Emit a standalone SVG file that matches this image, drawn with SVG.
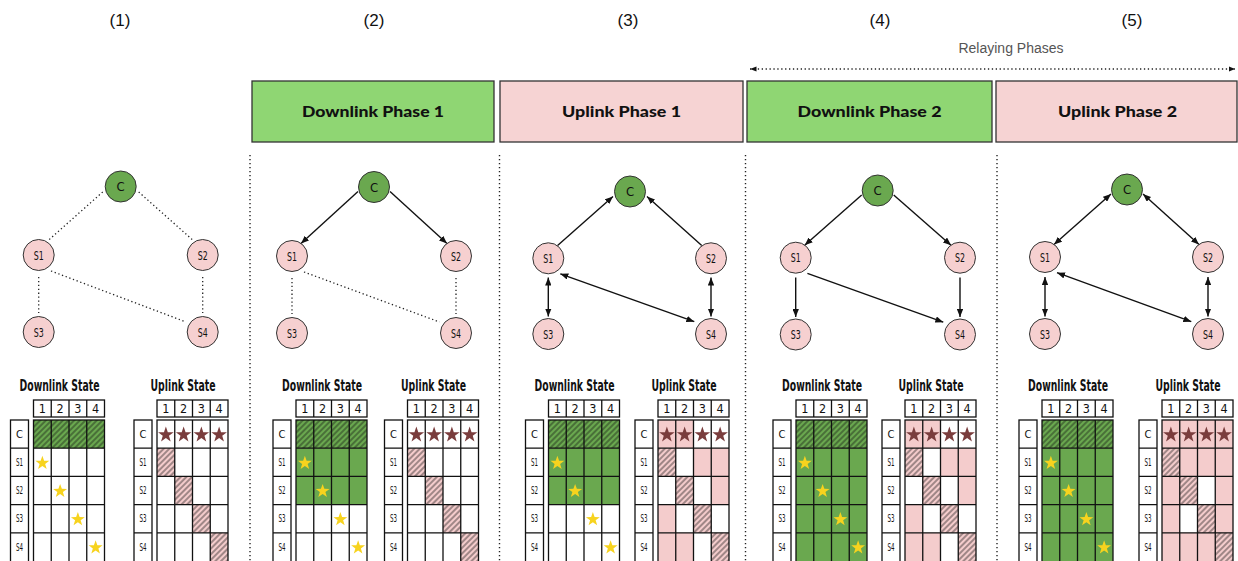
<svg xmlns="http://www.w3.org/2000/svg" xmlns:xlink="http://www.w3.org/1999/xlink" width="1238" height="561" viewBox="0 0 1238 561">
<style>
.num{font-family:"Liberation Sans",Arial,sans-serif;font-size:17px;fill:#111;text-anchor:middle}
.rp{font-family:"Liberation Sans",Arial,sans-serif;font-size:14px;fill:#555;text-anchor:middle}
.hb{font-family:Lato,"DejaVu Sans",sans-serif;font-weight:900;font-size:15px;fill:#111;text-anchor:middle}
.dlb{fill:#8fd673;stroke:#333;stroke-width:1.3}
.ulb{fill:#f6d3d3;stroke:#333;stroke-width:1.3}
.div{stroke:#222;stroke-width:1.4;stroke-dasharray:1.3 2.7;fill:none}
.cn{fill:#6aa84f;stroke:#333;stroke-width:1}
.sn{fill:#f6d0d0;stroke:#333;stroke-width:1}
.nl{font-family:"DejaVu Sans Condensed","DejaVu Sans",sans-serif;font-stretch:condensed;font-size:13px;fill:#111;text-anchor:middle}
.dot{stroke:#222;stroke-width:1.3;stroke-dasharray:1.3 2.6;fill:none}
.ar{stroke:#111;stroke-width:1.4;fill:none}
.tt{font-family:"DejaVu Sans Condensed","DejaVu Sans",sans-serif;font-stretch:condensed;font-weight:bold;font-size:15px;fill:#111;text-anchor:middle}
.hn{font-family:"DejaVu Sans Condensed","DejaVu Sans",sans-serif;font-stretch:condensed;font-size:12.5px;fill:#111;text-anchor:middle}
.rl{font-family:"DejaVu Sans Condensed","DejaVu Sans",sans-serif;font-stretch:condensed;font-size:10px;fill:#111;text-anchor:middle}
.tl{fill:none;stroke:#111;stroke-width:1.3}
.g{fill:#6aa84f}
.p{fill:#f4cccc}
.w{fill:#fff}
.h{fill:url(#hatch)}
</style>
<defs>
<pattern id="hatch" patternUnits="userSpaceOnUse" width="4" height="4" patternTransform="rotate(45)">
<line x1="2" y1="0" x2="2" y2="4" stroke="#111" stroke-width="0.75"/>
</pattern>
<marker id="ah" viewBox="0 0 10 8" refX="10" refY="4" markerWidth="8" markerHeight="6.4" markerUnits="userSpaceOnUse" orient="auto-start-reverse">
<path d="M0,0 L10,4 L0,8 z" fill="#111"/>
</marker>
<marker id="ah2" viewBox="0 0 10 8" refX="10" refY="4" markerWidth="6.5" markerHeight="5.2" markerUnits="userSpaceOnUse" orient="auto-start-reverse">
<path d="M0,0 L10,4 L0,8 z" fill="#111"/>
</marker>
<polygon id="ys" fill="#f7d31e" points="0,-7.3 1.72,-2.37 6.94,-2.26 2.77,0.91 4.29,5.91 0,2.92 -4.29,5.91 -2.77,0.91 -6.94,-2.26 -1.72,-2.37"/>
<polygon id="bs" fill="#7a3d3d" points="0,-8.2 1.93,-2.66 7.8,-2.53 3.12,1.02 4.82,6.63 0,3.28 -4.82,6.63 -3.12,1.02 -7.8,-2.53 -1.93,-2.66"/>
<g id="ystars">
<use href="#ys" x="8.875" y="463"/><use href="#ys" x="26.625" y="491.2"/><use href="#ys" x="44.375" y="519.4"/><use href="#ys" x="62.125" y="547.6"/>
</g>
<g id="bstars">
<use href="#bs" x="8.875" y="434.8"/><use href="#bs" x="26.625" y="434.8"/><use href="#bs" x="44.375" y="434.8"/><use href="#bs" x="62.125" y="434.8"/>
</g>
<g id="diag">
<rect class="p" x="0" y="448.2" width="17.75" height="28.2"/><rect class="h" x="0" y="448.2" width="17.75" height="28.2"/>
<rect class="p" x="17.75" y="476.4" width="17.75" height="28.2"/><rect class="h" x="17.75" y="476.4" width="17.75" height="28.2"/>
<rect class="p" x="35.5" y="504.6" width="17.75" height="28.2"/><rect class="h" x="35.5" y="504.6" width="17.75" height="28.2"/>
<rect class="p" x="53.25" y="532.8" width="17.75" height="29.2"/><rect class="h" x="53.25" y="532.8" width="17.75" height="29.2"/>
</g>
<g id="chatch">
<rect class="g" x="0" y="420" width="71" height="28.2"/><rect class="h" x="0" y="420" width="71" height="28.2"/>
</g>
<g id="frame">
<rect class="tl" x="0" y="400" width="71" height="17"/>
<path class="tl" d="M17.75,400V417M35.5,400V417M53.25,400V417"/>
<text class="hn" x="8.875" y="413.2">1</text><text class="hn" x="26.625" y="413.2">2</text><text class="hn" x="44.375" y="413.2">3</text><text class="hn" x="62.125" y="413.2">4</text>
<rect class="tl" x="-23" y="420" width="18" height="142"/>
<path class="tl" d="M-23,448.2H-5M-23,476.4H-5M-23,504.6H-5M-23,532.8H-5"/>
<text class="rl" x="-14" y="437.8" style="font-size:11px">C</text>
<text class="rl" x="-14" y="465.9" textLength="7" lengthAdjust="spacingAndGlyphs">S1</text>
<text class="rl" x="-14" y="494.1" textLength="7" lengthAdjust="spacingAndGlyphs">S2</text>
<text class="rl" x="-14" y="522.3" textLength="7" lengthAdjust="spacingAndGlyphs">S3</text>
<text class="rl" x="-14" y="550.5" textLength="7" lengthAdjust="spacingAndGlyphs">S4</text>
<rect class="tl" x="0" y="420" width="71" height="142"/>
<path class="tl" d="M0,448.2H71M0,476.4H71M0,504.6H71M0,532.8H71M17.75,420V562M35.5,420V562M53.25,420V562"/>
</g>
</defs>

<rect x="0" y="0" width="1238" height="561" fill="#fff"/>

<g id="titles">
<text class="num" x="120" y="26">(1)</text>
<text class="num" x="374" y="26">(2)</text>
<text class="num" x="628" y="26">(3)</text>
<text class="num" x="880" y="26">(4)</text>
<text class="num" x="1132" y="26">(5)</text>
<text class="rp" x="1011" y="53">Relaying Phases</text>
</g>

<g id="phase-headers">
<g id="hdr-dl1"><rect class="dlb" x="252" y="81" width="242" height="61"/><text class="hb" x="373" y="117" textLength="142" lengthAdjust="spacingAndGlyphs">Downlink Phase 1</text></g>
<g id="hdr-ul1"><rect class="ulb" x="500" y="81" width="243" height="61"/><text class="hb" x="621.5" y="117" textLength="119" lengthAdjust="spacingAndGlyphs">Uplink Phase 1</text></g>
<g id="hdr-dl2"><rect class="dlb" x="747" y="81" width="245" height="61"/><text class="hb" x="869.5" y="117" textLength="144" lengthAdjust="spacingAndGlyphs">Downlink Phase 2</text></g>
<g id="hdr-ul2"><rect class="ulb" x="996" y="81" width="241" height="61"/><text class="hb" x="1117.5" y="117" textLength="119" lengthAdjust="spacingAndGlyphs">Uplink Phase 2</text></g>
</g>

<g id="dividers">
<line class="div" x1="250" y1="155" x2="250" y2="561"/>
<line class="div" x1="499.5" y1="155" x2="499.5" y2="561"/>
<line class="div" x1="745.5" y1="155" x2="745.5" y2="561"/>
<line class="div" x1="997" y1="155" x2="997" y2="561"/>
</g>

<g id="connectors">
<line class="dot" x1="750" y1="69" x2="1235" y2="69" marker-start="url(#ah2)" marker-end="url(#ah2)"/>
<line class="dot" x1="102.7" y1="192" x2="48.7" y2="240"/>
<line class="dot" x1="138.7" y1="192" x2="192.7" y2="240"/>
<line class="dot" x1="38.7" y1="277" x2="38.7" y2="313"/>
<line class="dot" x1="202.7" y1="277" x2="202.7" y2="313"/>
<line class="dot" x1="51" y1="271" x2="186" y2="322"/>
<line class="ar" x1="358" y1="191.5" x2="301" y2="243.5" marker-end="url(#ah)"/>
<line class="ar" x1="390" y1="191.5" x2="447" y2="243.5" marker-end="url(#ah)"/>
<line class="dot" x1="292" y1="278" x2="292" y2="314"/>
<line class="dot" x1="456" y1="278" x2="456" y2="314"/>
<line class="dot" x1="304" y1="272" x2="439.5" y2="322"/>
<line class="ar" x1="557.3" y1="245.8" x2="613" y2="196.5" marker-end="url(#ah)"/>
<line class="ar" x1="702" y1="245.8" x2="647" y2="196.5" marker-end="url(#ah)"/>
<line class="ar" x1="548.3" y1="277.5" x2="548.3" y2="316.5" marker-start="url(#ah)" marker-end="url(#ah)"/>
<line class="ar" x1="711" y1="277.5" x2="711" y2="316.5" marker-start="url(#ah)" marker-end="url(#ah)"/>
<line class="ar" x1="560.3" y1="273.8" x2="694.3" y2="321.7" marker-start="url(#ah)" marker-end="url(#ah)"/>
<line class="ar" x1="861.7" y1="195" x2="804.7" y2="245.2" marker-end="url(#ah)"/>
<line class="ar" x1="893.7" y1="195" x2="951" y2="245.2" marker-end="url(#ah)"/>
<line class="ar" x1="795.7" y1="277.5" x2="795.7" y2="317" marker-end="url(#ah)"/>
<line class="ar" x1="960" y1="277.5" x2="960" y2="317" marker-end="url(#ah)"/>
<line class="ar" x1="807.4" y1="273.4" x2="943.3" y2="322.2" marker-end="url(#ah)"/>
<line class="ar" x1="1111" y1="194" x2="1054" y2="244.5" marker-start="url(#ah)" marker-end="url(#ah)"/>
<line class="ar" x1="1143" y1="194" x2="1199" y2="244.5" marker-start="url(#ah)" marker-end="url(#ah)"/>
<line class="ar" x1="1045" y1="277" x2="1045" y2="316.5" marker-start="url(#ah)" marker-end="url(#ah)"/>
<line class="ar" x1="1208" y1="277" x2="1208" y2="316.5" marker-start="url(#ah)" marker-end="url(#ah)"/>
<line class="ar" x1="1057" y1="272.7" x2="1191.3" y2="321.7" marker-start="url(#ah)" marker-end="url(#ah)"/>
</g>

<g id="p1-C"><circle class="cn" cx="120.7" cy="186.5" r="15.5"/><text class="nl" x="120.7" y="191">C</text></g>
<g id="p1-S1"><circle class="sn" cx="38.7" cy="255" r="15.5"/><text class="nl" x="38.7" y="259.5" textLength="10" lengthAdjust="spacingAndGlyphs">S1</text></g>
<g id="p1-S2"><circle class="sn" cx="202.7" cy="255" r="15.5"/><text class="nl" x="202.7" y="259.5" textLength="10" lengthAdjust="spacingAndGlyphs">S2</text></g>
<g id="p1-S3"><circle class="sn" cx="38.7" cy="332" r="15.5"/><text class="nl" x="38.7" y="336.5" textLength="10" lengthAdjust="spacingAndGlyphs">S3</text></g>
<g id="p1-S4"><circle class="sn" cx="202.7" cy="332" r="15.5"/><text class="nl" x="202.7" y="336.5" textLength="10" lengthAdjust="spacingAndGlyphs">S4</text></g>
<g id="p2-C"><circle class="cn" cx="374" cy="187" r="15.5"/><text class="nl" x="374" y="191.5">C</text></g>
<g id="p2-S1"><circle class="sn" cx="292" cy="256" r="15.5"/><text class="nl" x="292" y="260.5" textLength="10" lengthAdjust="spacingAndGlyphs">S1</text></g>
<g id="p2-S2"><circle class="sn" cx="456" cy="256" r="15.5"/><text class="nl" x="456" y="260.5" textLength="10" lengthAdjust="spacingAndGlyphs">S2</text></g>
<g id="p2-S3"><circle class="sn" cx="292" cy="333" r="15.5"/><text class="nl" x="292" y="337.5" textLength="10" lengthAdjust="spacingAndGlyphs">S3</text></g>
<g id="p2-S4"><circle class="sn" cx="456" cy="333" r="15.5"/><text class="nl" x="456" y="337.5" textLength="10" lengthAdjust="spacingAndGlyphs">S4</text></g>
<g id="p3-C"><circle class="cn" cx="630" cy="191.5" r="15.5"/><text class="nl" x="630" y="196">C</text></g>
<g id="p3-S1"><circle class="sn" cx="548.3" cy="258.3" r="15.5"/><text class="nl" x="548.3" y="262.8" textLength="10" lengthAdjust="spacingAndGlyphs">S1</text></g>
<g id="p3-S2"><circle class="sn" cx="711" cy="258.3" r="15.5"/><text class="nl" x="711" y="262.8" textLength="10" lengthAdjust="spacingAndGlyphs">S2</text></g>
<g id="p3-S3"><circle class="sn" cx="548.3" cy="334" r="15.5"/><text class="nl" x="548.3" y="338.5" textLength="10" lengthAdjust="spacingAndGlyphs">S3</text></g>
<g id="p3-S4"><circle class="sn" cx="711" cy="334" r="15.5"/><text class="nl" x="711" y="338.5" textLength="10" lengthAdjust="spacingAndGlyphs">S4</text></g>
<g id="p4-C"><circle class="cn" cx="877.7" cy="190.5" r="15.5"/><text class="nl" x="877.7" y="195">C</text></g>
<g id="p4-S1"><circle class="sn" cx="795.7" cy="257.7" r="15.5"/><text class="nl" x="795.7" y="262.2" textLength="10" lengthAdjust="spacingAndGlyphs">S1</text></g>
<g id="p4-S2"><circle class="sn" cx="960" cy="257.7" r="15.5"/><text class="nl" x="960" y="262.2" textLength="10" lengthAdjust="spacingAndGlyphs">S2</text></g>
<g id="p4-S3"><circle class="sn" cx="795.7" cy="334.5" r="15.5"/><text class="nl" x="795.7" y="339" textLength="10" lengthAdjust="spacingAndGlyphs">S3</text></g>
<g id="p4-S4"><circle class="sn" cx="960" cy="334.5" r="15.5"/><text class="nl" x="960" y="339" textLength="10" lengthAdjust="spacingAndGlyphs">S4</text></g>
<g id="p5-C"><circle class="cn" cx="1127" cy="189.5" r="15.5"/><text class="nl" x="1127" y="194">C</text></g>
<g id="p5-S1"><circle class="sn" cx="1045" cy="257" r="15.5"/><text class="nl" x="1045" y="261.5" textLength="10" lengthAdjust="spacingAndGlyphs">S1</text></g>
<g id="p5-S2"><circle class="sn" cx="1208" cy="257" r="15.5"/><text class="nl" x="1208" y="261.5" textLength="10" lengthAdjust="spacingAndGlyphs">S2</text></g>
<g id="p5-S3"><circle class="sn" cx="1045" cy="334" r="15.5"/><text class="nl" x="1045" y="338.5" textLength="10" lengthAdjust="spacingAndGlyphs">S3</text></g>
<g id="p5-S4"><circle class="sn" cx="1208" cy="334" r="15.5"/><text class="nl" x="1208" y="338.5" textLength="10" lengthAdjust="spacingAndGlyphs">S4</text></g>

<g id="p1-downlink" transform="translate(33.5,0)">
<text class="tt" transform="translate(26,391) scale(0.78,1)" textLength="102.5" lengthAdjust="spacingAndGlyphs">Downlink State</text>
<use href="#chatch"/><use href="#frame"/><use href="#ystars"/>
</g>
<g id="p1-uplink" transform="translate(157,0)">
<text class="tt" transform="translate(26,391) scale(0.78,1)" textLength="83.3" lengthAdjust="spacingAndGlyphs">Uplink State</text>
<use href="#diag"/><use href="#frame"/><use href="#bstars"/>
</g>
<g id="p2-downlink" transform="translate(296,0)">
<text class="tt" transform="translate(26,391) scale(0.78,1)" textLength="102.5" lengthAdjust="spacingAndGlyphs">Downlink State</text>
<rect class="g" x="0" y="448.2" width="71" height="56.4"/>
<use href="#chatch"/><use href="#frame"/><use href="#ystars"/>
</g>
<g id="p2-uplink" transform="translate(407.5,0)">
<text class="tt" transform="translate(26,391) scale(0.78,1)" textLength="83.3" lengthAdjust="spacingAndGlyphs">Uplink State</text>
<use href="#diag"/><use href="#frame"/><use href="#bstars"/>
</g>
<g id="p3-downlink" transform="translate(548.5,0)">
<text class="tt" transform="translate(26,391) scale(0.78,1)" textLength="102.5" lengthAdjust="spacingAndGlyphs">Downlink State</text>
<rect class="g" x="0" y="448.2" width="71" height="56.4"/>
<use href="#chatch"/><use href="#frame"/><use href="#ystars"/>
</g>
<g id="p3-uplink" transform="translate(658,0)">
<text class="tt" transform="translate(26,391) scale(0.78,1)" textLength="83.3" lengthAdjust="spacingAndGlyphs">Uplink State</text>
<rect class="p" x="0" y="420" width="35.5" height="28.2"/>
<rect class="p" x="35.5" y="448.2" width="35.5" height="28.2"/>
<rect class="p" x="53.25" y="476.4" width="17.75" height="28.2"/>
<rect class="p" x="0" y="504.6" width="17.75" height="28.2"/>
<rect class="p" x="0" y="532.8" width="35.5" height="29.2"/>
<use href="#diag"/><use href="#frame"/><use href="#bstars"/>
</g>
<g id="p4-downlink" transform="translate(796,0)">
<text class="tt" transform="translate(26,391) scale(0.78,1)" textLength="102.5" lengthAdjust="spacingAndGlyphs">Downlink State</text>
<rect class="g" x="0" y="448.2" width="71" height="113.8"/>
<use href="#chatch"/><use href="#frame"/><use href="#ystars"/>
</g>
<g id="p4-uplink" transform="translate(905,0)">
<text class="tt" transform="translate(26,391) scale(0.78,1)" textLength="83.3" lengthAdjust="spacingAndGlyphs">Uplink State</text>
<rect class="p" x="0" y="420" width="35.5" height="28.2"/>
<rect class="p" x="35.5" y="448.2" width="35.5" height="28.2"/>
<rect class="p" x="53.25" y="476.4" width="17.75" height="28.2"/>
<rect class="p" x="0" y="504.6" width="17.75" height="28.2"/>
<rect class="p" x="0" y="532.8" width="35.5" height="29.2"/>
<use href="#diag"/><use href="#frame"/><use href="#bstars"/>
</g>
<g id="p5-downlink" transform="translate(1042,0)">
<text class="tt" transform="translate(26,391) scale(0.78,1)" textLength="102.5" lengthAdjust="spacingAndGlyphs">Downlink State</text>
<rect class="g" x="0" y="448.2" width="71" height="113.8"/>
<use href="#chatch"/><use href="#frame"/><use href="#ystars"/>
</g>
<g id="p5-uplink" transform="translate(1162,0)">
<text class="tt" transform="translate(26,391) scale(0.78,1)" textLength="83.3" lengthAdjust="spacingAndGlyphs">Uplink State</text>
<rect class="p" x="0" y="420" width="71" height="142"/>
<rect class="w" x="35.5" y="476.4" width="17.75" height="28.2"/>
<rect class="w" x="17.75" y="504.6" width="17.75" height="28.2"/>
<use href="#diag"/><use href="#frame"/><use href="#bstars"/>
</g>
</svg>
